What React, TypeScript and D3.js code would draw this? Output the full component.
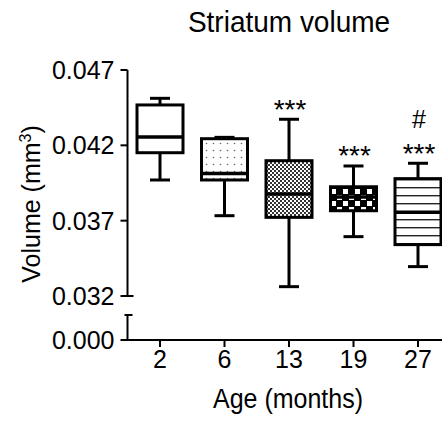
import React from 'react';
import * as d3 from 'd3';

const ages = ['2', '6', '13', '19', '27'];
const maxV = [0.04512, 0.04253, 0.04373, 0.04063, 0.04081];
const q3V = [0.04468, 0.04244, 0.04098, 0.03925, 0.03979];
const medV = [0.04255, 0.04013, 0.03877, 0.03857, 0.03756];
const q1V = [0.04151, 0.0397, 0.03722, 0.03766, 0.03541];
const minV = [0.0397, 0.03733, 0.03262, 0.03594, 0.03395];
const fills = ['white', 'url(#dots)', 'url(#fineCheck)', 'url(#bigCheck)', 'url(#hlines)'];
const marks = [[], [], ['***'], ['***'], ['#', '***']];
const upperTicks = [0.032, 0.037, 0.042, 0.047];
const lowerTicks = [0.0];

const W = 442;
const H = 428;
const axisX = 127.5;
const font = '"Liberation Sans", Arial, sans-serif';

const App: React.FC = () => {
  const x = d3.scalePoint<string>().domain(ages).range([160, 418]);
  const yUp = d3.scaleLinear().domain([0.032, 0.047]).range([296, 70]);
  const yLow = d3.scaleLinear().domain([0, 0.00166]).range([340, 315]);
  const fmt = d3.format('.3f');
  const boxW = 46;
  const capW = 20;
  const fs = 25;

  return (
    <svg width={W} height={H} style={{ position: 'absolute', left: 0, top: 0, background: 'white' }}>
      <defs>
        <pattern id="dots" width="7" height="7" patternUnits="userSpaceOnUse">
          <rect width="7" height="7" fill="white" />
          <circle cx="3.5" cy="3.5" r="0.8" fill="#666" />
        </pattern>
        <pattern id="fineCheck" width="4" height="4" patternUnits="userSpaceOnUse">
          <rect width="4" height="4" fill="white" />
          <rect width="2" height="2" fill="#333" />
          <rect x="2" y="2" width="2" height="2" fill="#333" />
        </pattern>
        <pattern id="bigCheck" width="12" height="12" patternUnits="userSpaceOnUse" y="2">
          <rect width="12" height="12" fill="black" />
          <rect x="1" y="1" width="5" height="5" fill="white" />
          <rect x="7" y="7" width="5" height="5" fill="white" />
        </pattern>
        <pattern id="hlines" width="8" height="8" patternUnits="userSpaceOnUse">
          <rect width="8" height="8" fill="white" />
          <rect y="3" width="8" height="1.4" fill="#222" />
        </pattern>
      </defs>

      <text transform="translate(289,31.5) scale(1,1.05)" textAnchor="middle" fontFamily={font} fontSize={28}>
        Striatum volume
      </text>

      {/* y axis upper */}
      <line x1={axisX} x2={axisX} y1={yUp(0.047)} y2={yUp(0.032)} stroke="black" strokeWidth={2} />
      <line x1={axisX - 1} x2={axisX + 6} y1={yUp(0.032)} y2={yUp(0.032)} stroke="black" strokeWidth={2} />
      {upperTicks.map((t) => (
        <g key={t}>
          <line x1={axisX - 7} x2={axisX} y1={yUp(t)} y2={yUp(t)} stroke="black" strokeWidth={2} />
          <text x={axisX - 13} y={yUp(t) + 9} textAnchor="end" fontFamily={font} fontSize={fs}>
            {fmt(t)}
          </text>
        </g>
      ))}

      {/* y axis lower */}
      <line x1={axisX} x2={axisX} y1={yLow(0.00166)} y2={yLow(0)} stroke="black" strokeWidth={2} />
      <line x1={axisX - 3} x2={axisX + 5} y1={yLow(0.00166)} y2={yLow(0.00166)} stroke="black" strokeWidth={2} />
      {lowerTicks.map((t) => (
        <g key={t}>
          <line x1={axisX - 7} x2={axisX} y1={yLow(t)} y2={yLow(t)} stroke="black" strokeWidth={2} />
          <text x={axisX - 13} y={yLow(t) + 9} textAnchor="end" fontFamily={font} fontSize={fs}>
            {fmt(t)}
          </text>
        </g>
      ))}

      {/* x axis */}
      <line x1={axisX - 1} x2={W} y1={yLow(0)} y2={yLow(0)} stroke="black" strokeWidth={2} />
      {ages.map((a) => (
        <g key={a}>
          <line x1={x(a)} x2={x(a)} y1={yLow(0)} y2={yLow(0) + 7} stroke="black" strokeWidth={2} />
          <text x={x(a)} y={368} textAnchor="middle" fontFamily={font} fontSize={fs}>
            {a}
          </text>
        </g>
      ))}
      <text transform="translate(288,408) scale(1,1.08)" textAnchor="middle" fontFamily={font} fontSize={fs}>
        Age (months)
      </text>

      <text transform="translate(40,204) rotate(-90)" textAnchor="middle" fontFamily={font} fontSize={fs}>
        Volume (mm<tspan dy="-9" fontSize={16}>3</tspan><tspan dy="9">)</tspan>
      </text>

      {/* boxes */}
      {ages.map((a, i) => {
        const cx = x(a) as number;
        return (
          <g key={a} stroke="black" strokeWidth={3}>
            <line x1={cx} x2={cx} y1={yUp(maxV[i])} y2={yUp(q3V[i])} />
            <line x1={cx} x2={cx} y1={yUp(q1V[i])} y2={yUp(minV[i])} />
            <line x1={cx - capW / 2} x2={cx + capW / 2} y1={yUp(maxV[i])} y2={yUp(maxV[i])} />
            <line x1={cx - capW / 2} x2={cx + capW / 2} y1={yUp(minV[i])} y2={yUp(minV[i])} />
            <rect
              x={cx - boxW / 2}
              y={yUp(q3V[i])}
              width={boxW}
              height={yUp(q1V[i]) - yUp(q3V[i])}
              fill={fills[i]}
            />
            <line x1={cx - boxW / 2} x2={cx + boxW / 2} y1={yUp(medV[i])} y2={yUp(medV[i])} strokeWidth={3.5} />
          </g>
        );
      })}

      {/* significance marks */}
      {ages.map((a, i) =>
        marks[i].map((m, j) => {
          const base = yUp(maxV[i]) - 0.5;
          const yy = m === '#' ? base - 35 : base;
          return (
            <text
              key={a + j}
              x={(x(a) as number) + 1}
              y={yy}
              textAnchor="middle"
              fontFamily={font}
              fontSize={m === '#' ? 25 : 28}
            >
              {m}
            </text>
          );
        })
      )}
    </svg>
  );
};

export default App;
